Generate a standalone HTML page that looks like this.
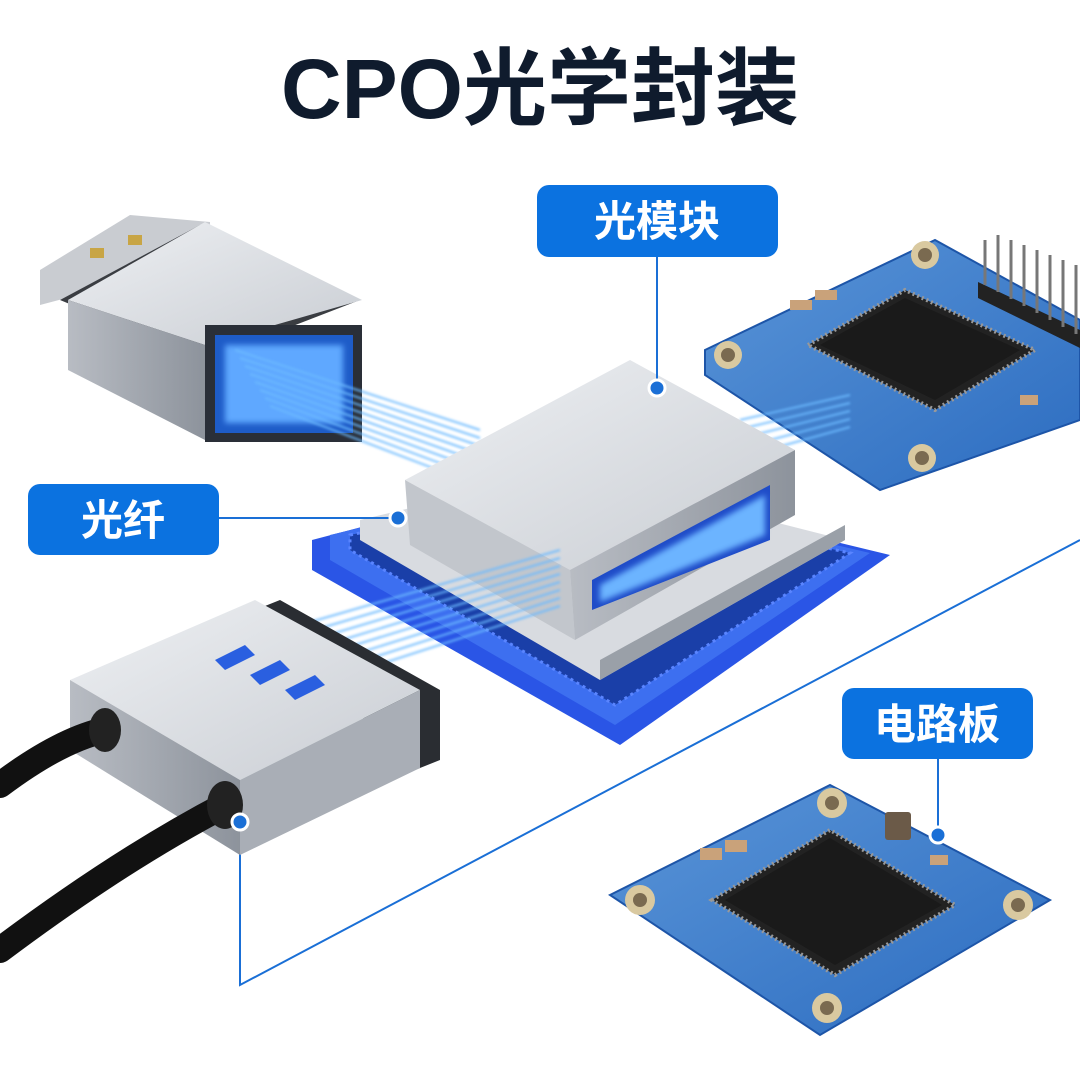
<!DOCTYPE html>
<html><head><meta charset="utf-8"><style>
html,body{margin:0;padding:0;background:#fff;}
svg{display:block}
text{font-family:"Liberation Sans","Noto Sans CJK SC",sans-serif;font-weight:bold}
</style></head><body>
<svg width="1080" height="1080" viewBox="0 0 1080 1080" xmlns="http://www.w3.org/2000/svg">
<defs>
<linearGradient id="gtop" x1="0" y1="0" x2="1" y2="1"><stop offset="0" stop-color="#eef0f3"/><stop offset="1" stop-color="#c9cdd3"/></linearGradient>
<linearGradient id="gside" x1="0" y1="0" x2="1" y2="0"><stop offset="0" stop-color="#b8bcc3"/><stop offset="1" stop-color="#8d939c"/></linearGradient>
<linearGradient id="pcb" x1="0" y1="0" x2="1" y2="1"><stop offset="0" stop-color="#5a95d8"/><stop offset="1" stop-color="#2c6cc0"/></linearGradient>
<filter id="glow"><feGaussianBlur stdDeviation="3"/></filter>
<filter id="glow2"><feGaussianBlur stdDeviation="1.2"/></filter>
</defs>
<rect width="1080" height="1080" fill="#fff"/>
<text x="540" y="118" font-size="84" fill="#0f1b2d" text-anchor="middle">CPO光学封装</text>

<polyline points="240,822 240,985 1080,540" fill="none" stroke="#1a6fd6" stroke-width="2"/>

<!-- top right PCB -->
<polygon points="705,350 935,240 1080,320 1080,420 880,490 705,375" fill="url(#pcb)" stroke="#1d55a8" stroke-width="2"/>
<circle cx="728" cy="355" r="14" fill="#d9c9a0"/><circle cx="728" cy="355" r="7" fill="#7a6a50"/>
<circle cx="925" cy="255" r="14" fill="#d9c9a0"/><circle cx="925" cy="255" r="7" fill="#7a6a50"/>
<circle cx="922" cy="458" r="14" fill="#d9c9a0"/><circle cx="922" cy="458" r="7" fill="#7a6a50"/>
<polygon points="808,345 905,290 1035,350 935,410" fill="#222" stroke="#999" stroke-width="4" stroke-dasharray="2 3"/>
<polygon points="820,345 905,298 1020,350 935,400" fill="#1a1a1a"/>
<polygon points="978,282 1080,330 1080,348 978,298" fill="#222"/>
<g stroke="#777" stroke-width="3">
<line x1="985" y1="285" x2="985" y2="240"/><line x1="998" y1="292" x2="998" y2="235"/><line x1="1011" y1="299" x2="1011" y2="240"/><line x1="1024" y1="306" x2="1024" y2="245"/><line x1="1037" y1="313" x2="1037" y2="250"/><line x1="1050" y1="320" x2="1050" y2="255"/><line x1="1063" y1="327" x2="1063" y2="260"/><line x1="1076" y1="334" x2="1076" y2="265"/></g>
<g fill="#c9a27a"><rect x="790" y="300" width="22" height="10"/><rect x="815" y="290" width="22" height="10"/><rect x="1020" y="395" width="18" height="10"/></g>

<!-- top left connector -->
<polygon points="40,270 130,215 210,222 210,260 40,305" fill="#c9ccd1"/>
<rect x="90" y="248" width="14" height="10" fill="#c8a545"/><rect x="128" y="235" width="14" height="10" fill="#c8a545"/>
<polygon points="60,300 200,225 360,300 205,360" fill="#3a3d42"/>
<polygon points="68,300 205,222 362,300 205,345" fill="url(#gtop)"/>
<polygon points="68,300 205,345 205,440 68,370" fill="url(#gside)"/>
<rect x="205" y="325" width="157" height="117" fill="#2a2f38"/>
<rect x="215" y="335" width="138" height="98" fill="#1e5cc8"/>
<rect x="225" y="345" width="118" height="78" fill="#5fa8ff" filter="url(#glow)"/>

<!-- fibers -->
<g stroke="#6cbaff" stroke-width="2" opacity="0.9" filter="url(#glow2)">
<line x1="235" y1="350" x2="480" y2="430"/><line x1="240" y1="358" x2="480" y2="438"/><line x1="245" y1="366" x2="480" y2="446"/><line x1="250" y1="374" x2="480" y2="454"/><line x1="255" y1="382" x2="480" y2="462"/><line x1="260" y1="390" x2="480" y2="470"/><line x1="265" y1="398" x2="480" y2="478"/><line x1="270" y1="406" x2="480" y2="486"/>
<line x1="740" y1="420" x2="850" y2="395"/><line x1="745" y1="428" x2="850" y2="403"/><line x1="750" y1="436" x2="850" y2="411"/><line x1="755" y1="444" x2="850" y2="419"/><line x1="760" y1="452" x2="850" y2="427"/>
</g>

<!-- center base -->
<polygon points="312,540 560,475 890,555 620,745 312,570" fill="#2a55e6"/>
<polygon points="330,535 560,480 870,553 615,725 330,560" fill="#3d6ff0"/>
<polygon points="350,535 560,490 850,553 615,705 350,550" fill="#1a3fa8" stroke="#5a85ff" stroke-width="3" stroke-dasharray="3 4"/>
<polygon points="360,520 570,470 845,540 600,680 360,540" fill="#d8dbe0"/>
<polygon points="600,660 845,525 845,540 600,680" fill="#9aa0a8"/>
<polygon points="405,480 630,360 795,450 570,570" fill="url(#gtop)"/>
<polygon points="405,480 570,570 575,640 410,545" fill="#c2c6cc"/>
<polygon points="570,570 795,450 795,515 575,640" fill="url(#gside)"/>
<polygon points="592,580 770,485 770,540 592,610" fill="#1f4cc8"/>
<polygon points="600,585 765,495 765,535 600,602" fill="#6cb4ff" filter="url(#glow)"/>

<g stroke="#6cbaff" stroke-width="2" opacity="0.9" filter="url(#glow2)">
<line x1="300" y1="625" x2="560" y2="550"/><line x1="304" y1="633" x2="560" y2="558"/><line x1="308" y1="641" x2="560" y2="566"/><line x1="312" y1="649" x2="560" y2="574"/><line x1="316" y1="657" x2="560" y2="582"/><line x1="320" y1="665" x2="560" y2="590"/><line x1="324" y1="673" x2="560" y2="598"/><line x1="328" y1="681" x2="560" y2="606"/>
</g>

<!-- bottom left connector -->
<polygon points="255,610 280,600 440,690 440,760 415,770" fill="#2a2d32"/>
<polygon points="70,680 255,600 420,690 240,780" fill="url(#gtop)"/>
<polygon points="70,680 240,780 240,855 70,750" fill="url(#gside)"/>
<polygon points="240,780 420,690 420,768 240,855" fill="#a9aeb6"/>
<g fill="#2a5fe0"><polygon points="215,660 245,645 255,655 225,670"/><polygon points="250,675 280,660 290,670 260,685"/><polygon points="285,690 315,675 325,685 295,700"/></g>
<g stroke="#111" stroke-width="26" fill="none" stroke-linecap="round">
<path d="M105,730 Q60,740 0,785"/><path d="M225,805 Q120,860 0,950"/></g>
<ellipse cx="105" cy="730" rx="16" ry="22" fill="#222"/><ellipse cx="225" cy="805" rx="18" ry="24" fill="#222"/>

<!-- bottom right PCB -->
<polygon points="610,895 830,785 1050,900 820,1035" fill="url(#pcb)" stroke="#1d55a8" stroke-width="2"/>
<circle cx="640" cy="900" r="15" fill="#d9c9a0"/><circle cx="640" cy="900" r="7" fill="#7a6a50"/>
<circle cx="832" cy="803" r="15" fill="#d9c9a0"/><circle cx="832" cy="803" r="7" fill="#7a6a50"/>
<circle cx="1018" cy="905" r="15" fill="#d9c9a0"/><circle cx="1018" cy="905" r="7" fill="#7a6a50"/>
<circle cx="827" cy="1008" r="15" fill="#d9c9a0"/><circle cx="827" cy="1008" r="7" fill="#7a6a50"/>
<polygon points="712,900 830,830 955,905 835,975" fill="#222" stroke="#999" stroke-width="4" stroke-dasharray="2 3"/>
<polygon points="725,900 830,838 942,905 835,965" fill="#1a1a1a"/>
<g fill="#c9a27a"><rect x="700" y="848" width="22" height="12"/><rect x="725" y="840" width="22" height="12"/><rect x="930" y="855" width="18" height="10"/></g>
<rect x="885" y="812" width="26" height="28" rx="3" fill="#6b5a48"/>

<g stroke="#1a6fd6" stroke-width="2">
<line x1="657" y1="257" x2="657" y2="388"/><line x1="219" y1="518" x2="398" y2="518"/><line x1="938" y1="759" x2="938" y2="835"/></g>
<g fill="#1a6fd6" stroke="#fff" stroke-width="3">
<circle cx="657" cy="388" r="8"/><circle cx="398" cy="518" r="8"/><circle cx="938" cy="835" r="8"/><circle cx="240" cy="822" r="8"/></g>

<rect x="537" y="185" width="241" height="72" rx="12" fill="#0b72e0"/>
<text x="657" y="236" font-size="42" fill="#fff" text-anchor="middle">光模块</text>
<rect x="28" y="484" width="191" height="71" rx="12" fill="#0b72e0"/>
<text x="123" y="535" font-size="42" fill="#fff" text-anchor="middle">光纤</text>
<rect x="842" y="688" width="191" height="71" rx="12" fill="#0b72e0"/>
<text x="937" y="739" font-size="42" fill="#fff" text-anchor="middle">电路板</text>
</svg>
</body></html>
